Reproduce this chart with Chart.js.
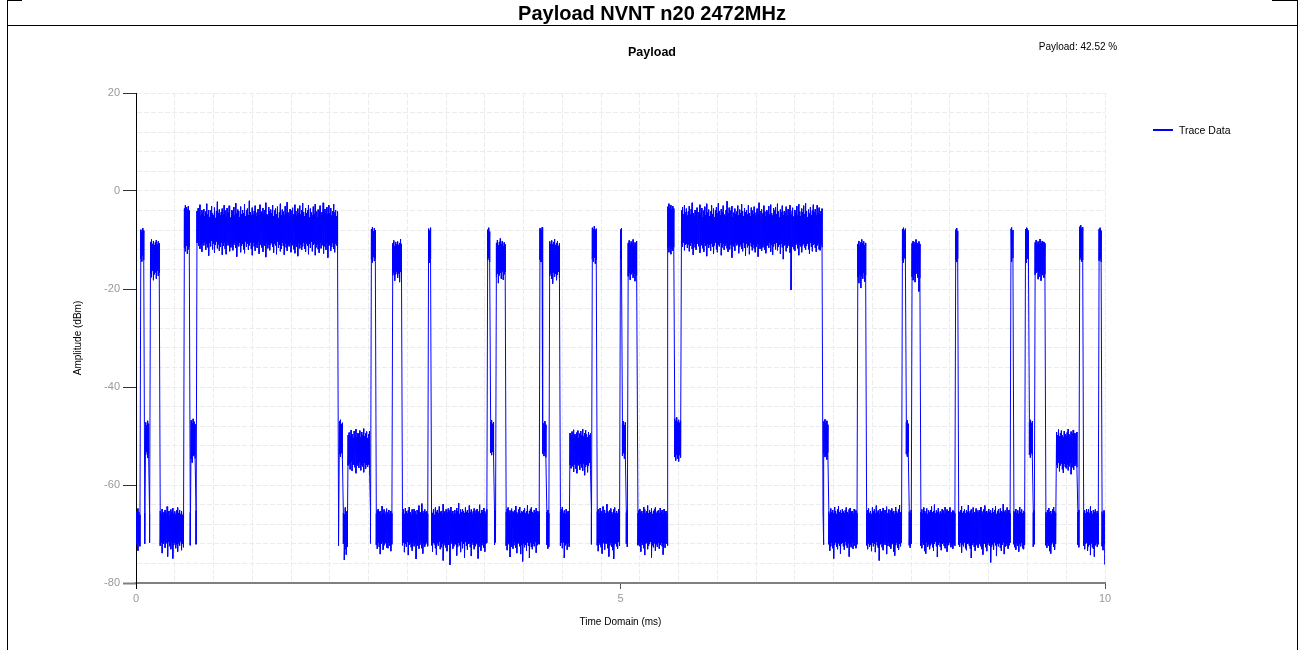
<!DOCTYPE html>
<html>
<head>
<meta charset="utf-8">
<title>Payload NVNT n20 2472MHz</title>
<script src="https://cdn.jsdelivr.net/npm/chart.js@4.4.1/dist/chart.umd.min.js"></script>
<style>
  html, body { margin: 0; padding: 0; background: #fff; }
  body { width: 1298px; height: 650px; position: relative; overflow: hidden;
         font-family: Arial, "Liberation Sans", sans-serif; }
  #chart { position: absolute; left: 0; top: 0; }
  .rule { position: absolute; background: #000; }
  .txt { position: absolute; white-space: nowrap; color: #000; }
</style>
</head>
<body>
<canvas id="chart" width="1298" height="650"></canvas>

<!-- table cell frame -->
<div class="rule" style="left:7px;top:0;width:1px;height:650px"></div>
<div class="rule" style="left:1297px;top:0;width:1px;height:650px"></div>
<div class="rule" style="left:7px;top:25px;width:1291px;height:1px"></div>
<div class="rule" style="left:7px;top:0;width:15px;height:1px"></div>
<div class="rule" style="left:1272px;top:0;width:26px;height:1px"></div>

<div class="txt" style="left:7px;width:1290px;top:0;height:25px;line-height:27px;text-align:center;font-weight:bold;font-size:20px">Payload NVNT n20 2472MHz</div>
<div class="txt" style="left:552px;width:200px;top:44px;line-height:16px;text-align:center;font-weight:bold;font-size:12.5px">Payload</div>
<div class="txt" style="left:1018px;width:120px;top:40px;line-height:14px;text-align:center;font-size:10px">Payload: 42.52 %</div>
<div class="rule" style="left:1153px;top:129px;width:20px;height:2px;background:#0000ff"></div>
<div class="txt" style="left:1179px;top:123px;line-height:14px;font-size:10.5px">Trace Data</div>

<script>
// peak envelope of the trace, one bin every 0.01 ms from 0 to 10 ms (dBm)
var startMs = 0;
var stepMs = 0.01;
var ampMax = [
  -65.4, -65.9, -64.8, -65.6, -66.1, -7.9, -8.3, -7.6, -8.1, -65.7,
  -47.2, -47.8, -46.9, -47.5, -65.9, -10.4, -9.9, -10.8, -10.2, -11.1,
  -10.5, -10.0, -10.9, -10.3, -10.7, -65.3, -65.8, -64.9, -66.0, -65.5,
  -65.1, -65.7, -64.4, -65.9, -65.3, -66.2, -65.0, -65.6, -64.7, -65.8,
  -65.4, -66.0, -65.2, -64.6, -65.7, -65.1, -65.9, -65.3, -66.1, -65.5,
  -3.6, -2.9, -3.3, -3.8, -3.1, -4.0, -65.6, -46.8, -47.4, -46.5,
  -47.1, -47.6, -65.2, -4.1, -3.5, -4.6, -2.8, -5.0, -3.9, -4.4,
  -3.7, -5.1, -4.2, -2.6, -4.8, -3.9, -5.3, -4.0, -3.1, -4.6,
  -4.9, -3.4, -5.5, -4.1, -2.2, -4.5, -3.8, -5.0, -4.3, -3.6,
  -4.7, -2.9, -4.0, -5.2, -3.5, -4.4, -3.0, -4.8, -5.4, -3.9,
  // 1.0 ms
  -4.2, -3.3, -5.0, -2.5, -4.6, -3.8, -4.1, -5.3, -3.2, -4.7,
  -3.9, -4.5, -2.7, -5.1, -4.0, -3.6, -4.9, -2.0, -4.3, -5.0,
  -3.4, -4.8, -4.1, -3.0, -5.2, -4.4, -3.7, -4.9, -2.8, -4.2,
  -5.4, -3.5, -4.6, -3.9, -2.4, -4.7, -5.0, -3.3, -4.1, -3.8,
  -4.5, -2.9, -5.1, -4.0, -3.6, -4.8, -3.2, -5.5, -4.3, -2.6,
  -4.9, -3.8, -4.2, -5.0, -3.1, -4.6, -2.3, -4.4, -5.2, -3.7,
  -4.0, -5.3, -3.4, -4.7, -2.8, -4.1, -5.0, -3.6, -4.5, -3.0,
  -4.8, -3.9, -2.5, -4.3, -5.1, -3.5, -4.6, -4.0, -2.9, -5.4,
  -3.6, -4.4, -5.0, -3.2, -4.7, -2.7, -4.2, -5.3, -3.8, -4.1,
  -3.0, -4.9, -4.3, -2.4, -5.2, -3.7, -4.5, -3.3, -4.8, -2.9,
  // 2.0 ms
  -4.6, -3.5, -5.0, -4.1, -2.7, -4.4, -3.9, -5.1, -4.2, -65.8,
  -47.0, -46.7, -47.6, -47.3, -65.7, -66.0, -64.6, -65.4, -65.9, -49.8,
  -49.3, -50.1, -48.8, -49.6, -50.4, -49.0, -49.9, -48.6, -50.2, -49.4,
  -49.7, -48.9, -50.3, -49.2, -49.8, -48.5, -50.0, -49.5, -49.1, -50.4,
  -49.6, -49.0, -65.5, -7.8, -7.4, -8.2, -7.6, -8.0, -65.8, -65.2,
  -64.9, -65.6, -65.3, -66.1, -64.3, -65.7, -65.0, -65.9, -65.4, -64.8,
  -65.6, -65.1, -66.0, -65.3, -65.8, -10.7, -10.1, -11.2, -10.4, -10.9,
  -10.3, -11.0, -10.6, -9.8, -10.8, -65.5, -65.0, -65.9, -64.7, -65.4,
  -65.8, -65.2, -64.5, -65.6, -66.1, -65.0, -65.7, -64.9, -65.3, -66.0,
  -65.1, -65.9, -64.2, -65.5, -65.8, -63.8, -65.3, -65.7, -65.0, -65.6,
  // 3.0 ms
  -65.4, -65.9, -7.7, -8.1, -7.5, -65.2, -65.7, -65.0, -66.1, -64.6,
  -65.5, -65.1, -65.8, -64.4, -65.6, -65.3, -66.0, -63.9, -65.4, -65.7,
  -65.0, -65.6, -64.8, -65.9, -65.2, -64.5, -65.7, -65.3, -66.0, -65.1,
  -65.8, -64.7, -65.4, -63.7, -65.9, -65.0, -65.6, -64.9, -65.3, -65.7,
  -64.6, -65.5, -65.1, -65.8, -64.2, -65.6, -65.0, -65.9, -65.4, -64.8,
  -65.7, -65.2, -64.9, -65.6, -65.3, -64.0, -65.8, -65.1, -65.5, -64.7,
  -65.4, -65.9, -65.0, -7.9, -7.5, -8.3, -47.1, -46.8, -47.5, -47.2,
  -65.6, -65.3, -10.6, -10.0, -11.1, -10.4, -9.7, -10.8, -10.2, -11.3,
  -10.5, -10.9, -65.5, -65.0, -64.6, -65.8, -65.2, -65.9, -64.8, -65.4,
  -65.7, -65.1, -64.3, -65.6, -65.9, -65.0, -64.5, -65.8, -65.3, -65.6,
  // 4.0 ms
  -65.2, -64.8, -65.7, -65.4, -64.1, -65.9, -65.3, -65.0, -64.6, -65.5,
  -65.8, -65.1, -65.6, -64.7, -65.3, -65.9, -65.4, -7.6, -7.9, -7.4,
  -46.9, -47.4, -47.0, -47.7, -65.5, -65.1, -65.8, -10.3, -10.8, -10.1,
  -10.9, -10.4, -9.8, -11.0, -10.6, -10.2, -11.2, -10.7, -65.4, -65.0,
  -64.5, -65.7, -65.2, -65.9, -64.9, -65.6, -65.3, -65.8, -49.4, -49.9,
  -49.1, -50.2, -48.7, -49.6, -50.0, -49.3, -48.9, -50.4, -49.5, -49.0,
  -49.8, -48.6, -50.1, -49.4, -48.8, -49.7, -50.3, -49.2, -49.9, -49.5,
  -65.6, -7.5, -7.8, -7.2, -8.0, -7.7, -65.4, -65.0, -65.8, -64.7,
  -65.3, -65.9, -64.4, -65.6, -65.1, -65.7, -63.9, -65.4, -65.8, -65.2,
  -64.8, -65.5, -65.9, -65.0, -64.6, -65.7, -65.3, -65.8, -64.9, -65.4,
  // 5.0 ms
  -7.9, -7.6, -47.4, -47.0, -47.8, -47.2, -65.6, -65.1, -10.6, -10.1,
  -10.9, -10.3, -10.7, -9.9, -11.2, -10.5, -10.8, -10.2, -65.7, -65.2,
  -64.9, -65.6, -65.3, -65.9, -64.5, -65.0, -65.7, -65.4, -64.2, -65.8,
  -65.1, -65.6, -64.8, -65.9, -65.3, -65.0, -64.6, -65.7, -65.4, -65.2,
  -65.8, -64.7, -65.5, -65.1, -65.9, -64.9, -65.6, -65.3, -65.7, -3.2,
  -2.6, -3.5, -2.9, -3.8, -3.1, -3.6, -46.4, -46.9, -46.2, -47.1,
  -46.7, -47.3, -46.9, -4.0, -3.3, -4.7, -2.9, -4.4, -3.6, -5.0,
  -4.2, -3.1, -4.8, -3.7, -2.4, -4.5, -5.2, -3.9, -4.1, -3.4,
  -5.0, -4.3, -2.8, -4.6, -3.5, -5.3, -4.0, -3.2, -4.9, -2.6,
  -4.4, -3.8, -5.1, -4.2, -2.9, -4.7, -3.6, -5.4, -4.0, -3.3,
  // 6.0 ms
  -4.6, -2.5, -4.1, -5.0, -3.7, -4.3, -3.0, -4.8, -5.2, -3.9,
  -2.1, -4.5, -3.4, -4.9, -4.0, -3.1, -5.3, -4.4, -3.6, -4.7,
  -4.2, -3.0, -5.0, -3.8, -4.6, -2.7, -4.1, -5.1, -3.5, -4.3,
  -3.9, -4.8, -2.9, -4.5, -5.2, -3.4, -4.0, -4.7, -3.2, -5.0,
  -4.4, -3.6, -4.9, -2.4, -4.1, -5.3, -3.7, -4.6, -3.0, -4.2,
  -5.1, -3.9, -4.3, -3.1, -4.8, -2.8, -4.5, -5.0, -3.5, -4.0,
  -3.3, -4.7, -2.6, -4.2, -5.4, -3.8, -4.4, -3.0, -4.9, -4.1,
  -4.6, -3.2, -5.0, -3.7, -4.3, -2.9, -4.8, -4.0, -3.4, -5.2,
  -3.9, -4.5, -3.1, -4.9, -2.7, -4.2, -5.1, -3.6, -4.4, -3.0,
  -4.7, -2.5, -4.1, -5.3, -3.8, -4.6, -3.3, -4.9, -4.0, -2.8,
  // 7.0 ms
  -4.3, -3.7, -5.0, -2.9, -4.5, -3.4, -4.8, -4.1, -3.6, -65.5,
  -47.0, -46.6, -47.4, -46.9, -47.7, -65.4, -65.9, -64.8, -65.6, -65.1,
  -65.7, -64.5, -65.3, -65.9, -65.0, -64.3, -65.6, -65.2, -65.8, -64.9,
  -65.4, -65.8, -65.1, -64.6, -65.5, -65.9, -65.0, -64.7, -65.6, -65.3,
  -65.8, -64.9, -65.5, -65.2, -65.7, -10.8, -10.2, -11.0, -10.5, -9.9,
  -10.7, -10.3, -11.1, -10.6, -65.6, -65.1, -64.8, -65.7, -65.3, -65.9,
  -64.6, -65.4, -65.0, -65.8, -64.2, -65.5, -65.2, -65.9, -64.9, -65.6,
  -65.3, -64.7, -65.8, -65.1, -65.5, -64.4, -65.7, -65.0, -65.9, -65.2,
  -64.8, -65.6, -65.3, -65.9, -64.5, -65.4, -65.7, -65.0, -64.1, -65.6,
  -65.3, -7.8, -7.5, -8.1, -7.7, -47.2, -46.8, -47.5, -65.4, -65.8,
  // 8.0 ms
  -65.1, -10.7, -10.2, -10.9, -10.4, -9.9, -10.6, -11.1, -10.3, -10.8,
  -65.5, -65.0, -65.8, -64.6, -65.3, -65.7, -64.8, -65.9, -65.2, -65.6,
  -65.1, -64.4, -65.6, -65.3, -64.0, -65.8, -65.2, -65.5, -64.7, -65.9,
  -65.4, -65.7, -64.9, -65.2, -65.8, -64.5, -65.6, -65.0, -65.3, -65.7,
  -64.6, -65.5, -65.9, -65.2, -65.4, -65.8, -7.9, -7.6, -8.2, -65.3,
  -65.6, -65.1, -64.3, -65.7, -65.4, -64.9, -65.8, -65.2, -65.5, -64.1,
  -65.7, -65.3, -65.0, -65.9, -64.6, -65.5, -65.8, -64.8, -65.2, -65.6,
  -65.1, -65.8, -64.5, -65.4, -65.9, -65.0, -64.2, -65.6, -65.3, -65.7,
  -64.9, -65.5, -65.2, -65.8, -64.7, -65.6, -65.1, -64.3, -65.9, -65.4,
  -65.0, -65.7, -64.8, -65.3, -65.6, -63.9, -65.5, -65.2, -65.8, -64.6,
  // 9.0 ms
  -65.4, -65.1, -65.8, -7.7, -7.4, -8.0, -65.3, -65.6, -64.9, -65.7,
  -65.2, -65.9, -64.5, -65.5, -65.0, -65.8, -65.3, -65.6, -7.8, -7.5,
  -7.7, -8.1, -47.1, -46.7, -47.4, -47.0, -65.6, -65.2, -10.5, -10.0,
  -10.8, -10.3, -10.9, -9.8, -10.6, -10.2, -11.0, -10.4, -10.7, -65.5,
  -65.8, -65.1, -64.7, -65.6, -65.3, -65.9, -65.0, -64.5, -65.4, -65.7,
  -49.2, -49.8, -48.7, -50.1, -49.4, -48.9, -49.9, -50.3, -49.0, -49.6,
  -50.0, -49.3, -48.6, -49.7, -50.2, -49.1, -49.5, -48.8, -50.4, -49.4,
  -49.7, -49.2, -65.5, -65.1, -7.3, -7.0, -7.6, -7.4, -65.6, -65.2,
  -65.8, -64.9, -65.5, -65.0, -65.7, -64.4, -65.3, -65.9, -65.1, -65.6,
  -65.0, -65.7, -65.3, -65.8, -7.8, -7.5, -8.1, -65.4, -65.9, -65.2,
  -65.6
];
var ampMin = [
  -72.1, -71.6, -73.4, -71.9, -72.5, -13.8, -14.4, -13.2, -14.1, -72.0,
  -53.8, -53.2, -54.5, -53.6, -71.8, -16.9, -17.6, -16.3, -18.2, -17.0,
  -16.6, -17.9, -16.2, -17.3, -16.8, -72.4, -71.7, -73.9, -72.0, -71.5,
  -72.8, -71.9, -72.3, -74.6, -71.6, -72.5, -73.1, -71.8, -75.0, -72.2,
  -71.7, -72.9, -72.1, -73.6, -71.9, -72.4, -71.5, -73.3, -72.0, -72.7,
  -11.6, -12.3, -11.2, -12.8, -11.9, -11.4, -72.3, -54.7, -55.4, -54.1,
  -53.9, -54.6, -72.1, -10.6, -11.2, -10.3, -11.8, -10.9, -12.4, -10.5,
  -11.1, -10.4, -12.0, -10.8, -11.5, -13.2, -10.6, -11.3, -10.2, -11.9,
  -10.7, -12.6, -11.0, -10.3, -11.7, -10.9, -12.2, -11.4, -10.5, -13.0,
  -11.2, -10.6, -11.8, -12.9, -10.4, -11.1, -10.8, -12.3, -11.5, -10.7,
  // 1.0 ms
  -12.1, -11.0, -10.5, -11.6, -13.4, -10.9, -11.3, -10.6, -12.5, -11.2,
  -10.8, -11.9, -12.7, -10.3, -11.4, -10.7, -12.0, -11.1, -10.5, -11.8,
  -13.1, -10.6, -11.3, -12.2, -10.9, -11.6, -10.4, -12.8, -11.0, -10.7,
  -11.5, -12.4, -10.8, -11.2, -13.5, -10.5, -11.7, -11.0, -12.1, -10.9,
  -10.6, -11.4, -12.6, -10.8, -11.1, -12.9, -10.3, -11.6, -11.0, -12.3,
  -11.8, -10.5, -11.2, -13.0, -10.7, -11.5, -12.2, -10.9, -11.3, -10.6,
  -12.5, -11.1, -10.4, -11.9, -12.7, -10.8, -11.4, -13.3, -10.6, -11.7,
  -10.9, -12.0, -11.3, -10.5, -11.8, -12.4, -10.7, -11.2, -12.9, -10.8,
  -11.6, -10.4, -12.3, -11.0, -10.7, -13.1, -11.5, -10.9, -11.9, -12.6,
  -10.5, -11.7, -11.1, -12.8, -10.8, -11.3, -12.0, -10.6, -13.6, -11.2,
  // 2.0 ms
  -10.9, -12.2, -11.4, -10.6, -11.8, -12.5, -10.7, -11.1, -12.0, -72.4,
  -53.7, -54.2, -53.5, -54.6, -72.0, -75.3, -73.1, -74.2, -72.6, -56.0,
  -55.6, -56.8, -55.2, -57.1, -55.9, -56.4, -55.4, -57.6, -56.1, -55.7,
  -56.5, -55.3, -57.0, -55.8, -56.2, -57.4, -55.5, -56.7, -55.9, -56.3,
  -55.8, -56.6, -71.9, -14.0, -14.6, -13.5, -14.3, -13.8, -72.2, -73.0,
  -71.8, -72.6, -74.1, -72.0, -71.6, -73.2, -72.3, -71.9, -72.8, -71.5,
  -72.9, -71.7, -72.4, -73.5, -72.1, -17.2, -16.6, -18.3, -17.0, -16.4,
  -17.7, -16.8, -18.6, -16.5, -17.3, -72.3, -71.8, -73.7, -72.0, -72.6,
  -71.6, -74.3, -72.2, -71.9, -72.7, -73.4, -71.7, -72.5, -72.0, -75.1,
  -72.4, -71.8, -73.0, -72.2, -71.5, -72.9, -74.0, -71.9, -72.6, -72.1,
  // 3.0 ms
  -71.7, -72.5, -14.2, -14.7, -13.9, -72.3, -73.6, -71.8, -72.1, -72.9,
  -74.2, -71.9, -72.4, -71.6, -73.1, -72.7, -72.0, -75.4, -71.8, -72.3,
  -72.8, -73.5, -71.7, -72.2, -76.3, -72.0, -71.6, -73.0, -72.5, -71.9,
  -72.1, -74.4, -72.6, -71.8, -72.3, -73.7, -71.5, -72.9, -72.0, -74.8,
  -71.6, -72.4, -73.2, -72.0, -71.9, -72.7, -74.5, -71.7, -72.2, -73.1,
  -72.5, -71.8, -72.1, -75.0, -72.6, -71.9, -73.4, -72.3, -71.7, -72.8,
  -73.6, -72.0, -71.8, -14.1, -13.6, -14.5, -53.4, -53.9, -53.2, -54.0,
  -72.2, -71.7, -17.5, -16.9, -18.8, -17.2, -16.7, -17.9, -16.4, -18.1,
  -17.0, -16.6, -72.4, -73.3, -71.8, -72.1, -74.7, -72.6, -71.9, -73.0,
  -72.3, -71.6, -72.8, -73.9, -72.0, -71.8, -72.5, -74.1, -72.2, -75.6,
  // 4.0 ms
  -71.9, -72.7, -72.2, -73.4, -71.7, -72.4, -74.9, -71.8, -72.6, -73.1,
  -72.0, -72.5, -71.6, -73.8, -72.3, -71.9, -72.1, -14.0, -14.5, -13.7,
  -53.6, -54.1, -53.3, -54.4, -72.2, -73.0, -72.6, -17.3, -16.8, -17.9,
  -18.9, -16.6, -17.5, -16.9, -18.2, -17.1, -16.5, -17.8, -72.4, -71.8,
  -72.9, -71.7, -74.9, -72.3, -72.0, -73.2, -71.9, -72.6, -55.9, -56.6,
  -56.2, -55.5, -57.3, -55.8, -56.7, -57.6, -55.4, -56.0, -56.9, -55.7,
  -56.4, -57.1, -55.6, -58.0, -56.3, -55.9, -57.4, -56.1, -55.5, -56.8,
  -72.1, -13.9, -14.4, -13.6, -14.8, -14.1, -72.3, -73.5, -71.8, -72.2,
  -72.7, -74.0, -71.9, -72.4, -73.2, -72.0, -71.7, -72.9, -74.6, -72.3,
  -71.8, -72.6, -73.3, -75.1, -72.1, -71.9, -72.5, -73.0, -71.6, -72.4,
  // 5.0 ms
  -13.8, -14.3, -54.0, -53.5, -54.6, -53.8, -72.0, -72.6, -17.4, -16.8,
  -18.1, -17.0, -16.6, -17.7, -16.9, -18.4, -17.2, -16.7, -72.3, -71.9,
  -72.5, -73.6, -71.7, -72.2, -72.9, -74.3, -72.0, -71.8, -73.1, -72.4,
  -72.0, -71.6, -74.8, -72.3, -72.7, -71.9, -73.4, -72.1, -72.6, -71.8,
  -73.0, -72.2, -71.7, -72.5, -74.2, -71.9, -72.8, -72.0, -72.4, -11.7,
  -12.5, -11.4, -12.9, -11.8, -12.2, -11.5, -54.3, -55.0, -53.8, -54.6,
  -55.2, -53.9, -54.4, -10.7, -11.4, -10.5, -12.1, -11.0, -10.8, -11.6,
  -10.9, -12.3, -11.2, -10.6, -11.8, -13.0, -10.7, -11.5, -12.0, -10.8,
  -11.3, -10.5, -12.6, -11.1, -10.9, -11.7, -12.4, -10.6, -11.2, -13.3,
  -10.8, -11.6, -11.0, -12.2, -10.7, -11.4, -12.8, -11.1, -10.5, -11.9,
  // 6.0 ms
  -12.5, -10.9, -11.3, -10.6, -13.1, -11.5, -10.8, -12.0, -11.2, -10.7,
  -11.7, -12.4, -10.5, -11.9, -11.0, -13.6, -10.8, -11.3, -12.2, -10.6,
  -11.1, -10.7, -12.7, -11.4, -10.9, -11.8, -12.3, -10.5, -11.6, -13.2,
  -10.8, -11.5, -11.1, -12.9, -10.6, -11.3, -12.1, -10.9, -11.7, -12.5,
  -11.4, -10.7, -13.4, -11.0, -11.8, -10.6, -12.2, -11.5, -10.8, -12.0,
  -12.7, -11.2, -10.9, -11.6, -10.5, -12.4, -11.0, -13.0, -11.3, -10.8,
  -11.9, -10.6, -12.1, -11.4, -11.0, -12.8, -10.7, -11.5, -13.9, -11.1,
  -10.9, -12.3, -11.6, -10.8, -11.2, -12.6, -20.2, -11.4, -10.7, -11.9,
  -12.2, -11.0, -10.6, -11.7, -13.1, -10.9, -11.3, -12.5, -11.1, -10.8,
  -11.5, -12.0, -11.2, -10.7, -11.9, -12.8, -10.6, -11.4, -12.3, -11.0,
  // 7.0 ms
  -10.8, -11.6, -12.4, -11.1, -10.7, -11.9, -12.1, -10.9, -11.5, -72.2,
  -53.6, -54.3, -53.9, -54.8, -53.4, -72.1, -73.4, -72.5, -71.8, -72.9,
  -75.0, -72.2, -71.7, -72.6, -73.1, -71.9, -72.4, -74.0, -72.0, -71.8,
  -72.5, -73.2, -71.6, -72.3, -72.8, -71.9, -74.6, -72.1, -72.7, -71.7,
  -73.0, -72.4, -71.8, -72.9, -72.1, -17.6, -18.8, -17.0, -19.8, -17.4,
  -17.9, -16.7, -18.5, -17.2, -72.3, -73.1, -71.9, -72.6, -72.2, -73.5,
  -71.8, -72.5, -72.0, -73.7, -71.6, -72.3, -72.8, -75.4, -72.1, -71.9,
  -72.7, -73.3, -71.7, -72.2, -72.9, -74.1, -72.4, -71.8, -72.6, -73.0,
  -72.1, -71.9, -73.6, -74.4, -72.3, -71.7, -72.8, -73.2, -72.0, -72.5,
  -71.8, -14.2, -14.6, -13.7, -14.0, -53.7, -54.2, -53.4, -72.3, -72.8,
  // 8.0 ms
  -72.0, -17.5, -18.2, -17.1, -18.6, -16.9, -17.7, -17.3, -20.5, -17.8,
  -72.4, -72.9, -71.8, -72.2, -73.5, -74.0, -71.7, -72.6, -72.1, -73.1,
  -72.3, -71.9, -72.7, -73.4, -72.0, -71.6, -72.5, -74.7, -72.2, -71.8,
  -72.6, -73.3, -72.0, -71.7, -72.4, -72.9, -71.9, -73.6, -72.3, -72.1,
  -71.8, -72.7, -72.2, -73.0, -71.9, -72.4, -14.1, -14.5, -13.8, -72.2,
  -72.6, -71.8, -73.8, -72.1, -72.5, -71.7, -72.9, -73.3, -72.0, -71.9,
  -72.4, -73.0, -74.9, -72.2, -71.8, -72.6, -73.4, -71.9, -72.3, -72.8,
  -72.1, -71.7, -72.5, -73.1, -74.2, -72.0, -71.9, -72.7, -73.5, -72.2,
  -71.8, -72.4, -75.8, -72.6, -72.1, -73.2, -71.7, -72.3, -74.5, -72.0,
  -72.5, -71.9, -72.8, -73.4, -72.2, -71.7, -74.1, -72.6, -72.0, -72.4,
  // 9.0 ms
  -73.0, -72.3, -71.8, -14.0, -14.4, -13.7, -72.1, -72.7, -73.2, -71.9,
  -72.4, -73.6, -72.0, -72.5, -71.8, -72.9, -73.1, -72.2, -14.2, -14.6,
  -13.8, -14.1, -53.8, -54.4, -53.5, -54.0, -72.6, -72.1, -17.1, -16.7,
  -16.4, -18.0, -17.5, -16.8, -18.3, -17.2, -16.6, -17.7, -17.0, -72.3,
  -72.8, -71.9, -72.4, -73.5, -74.0, -72.1, -71.7, -72.6, -73.2, -72.0,
  -55.9, -56.5, -55.4, -57.2, -56.0, -55.6, -56.8, -57.5, -55.7, -56.3,
  -56.6, -55.8, -57.0, -56.2, -55.5, -57.8, -56.4, -55.9, -56.9, -56.1,
  -55.6, -56.4, -72.2, -72.7, -14.0, -13.6, -14.4, -14.1, -72.4, -73.1,
  -72.0, -71.8, -73.4, -72.5, -72.2, -74.3, -71.9, -72.7, -73.0, -74.6,
  -72.3, -71.9, -72.6, -72.1, -14.2, -13.9, -14.5, -72.5, -73.3, -72.0,
  -76.2
];

var xTicks = [0, 5, 10];
var yMin = -80, yMax = 20;
var seriesName = "Trace Data";

// each bin becomes a vertical stroke from its max to its min
var points = [];
ampMax.forEach(function (v, i) {
    var t = +(startMs + i * stepMs).toFixed(2);
    points.push({ x: t, y: v });
    points.push({ x: t, y: ampMin[i] });
});

Chart.defaults.font.family = 'Arial, "Liberation Sans", sans-serif';

var ctx = document.getElementById("chart").getContext("2d");
var myChart = new Chart(ctx, {
    type: "line",
    data: {
        datasets: [
            {
                label: seriesName,
                data: points,
                borderColor: "#0000ff",
                borderWidth: 1,
                pointRadius: 0,
                tension: 0,
                fill: false,
            },
        ],
    },
    options: {
        responsive: false,
        animation: false,
        devicePixelRatio: 1,
        layout: { padding: { left: 0, top: 93, right: 193, bottom: 0 } },
        plugins: {
            legend: { display: false },
            tooltip: { enabled: false },
        },
        scales: {
            x: {
                type: "linear",
                position: "bottom",
                min: xTicks[0],
                max: xTicks[xTicks.length - 1],
                afterBuildTicks: function (scale) {
                    scale.ticks = xTicks.map(function (v) { return { value: v }; });
                },
                ticks: { color: "#999", font: { size: 11 }, padding: 3, maxRotation: 0 },
                grid: {
                    drawOnChartArea: false,
                    tickLength: 6,
                    tickColor: function (c) { return c.tick && c.tick.value === 0 ? "#000" : "#555"; },
                },
                border: { color: "#808080", width: 2 },
                title: {
                    display: true,
                    text: "Time Domain (ms)",
                    color: "#000",
                    font: { size: 10 },
                    padding: { top: 0, bottom: 22 },
                },
                afterFit: function (scale) { scale.height = 67; },
            },
            xg: {
                type: "linear",
                position: "top",
                min: 0,
                max: 10,
                ticks: { display: false, stepSize: 0.4 },
                grid: { color: "#ececec", drawTicks: false },
                border: { display: false, dash: [5, 2] },
                afterFit: function (scale) { scale.height = 0; },
            },
            y: {
                type: "linear",
                min: yMin,
                max: yMax,
                ticks: {
                    stepSize: 4,
                    autoSkip: false,
                    color: "#999",
                    font: { size: 11 },
                    padding: 3,
                    callback: function (v) { return v % 20 === 0 ? v : ""; },
                },
                grid: {
                    color: "#ececec",
                    tickLength: 13,
                    tickColor: function (c) {
                        if (!c.tick || c.tick.value % 20 !== 0) return "rgba(0,0,0,0)";
                        return c.tick.value === yMin ? "#808080" : "#333";
                    },
                    tickWidth: function (c) { return c.tick && c.tick.value === yMin ? 2 : 1; },
                },
                border: { color: "#000", width: 1, dash: [5, 2] },
                title: {
                    display: true,
                    text: "Amplitude (dBm)",
                    color: "#000",
                    font: { size: 10 },
                    padding: { top: 72, bottom: 0 },
                },
                afterFit: function (scale) { scale.width = 136; },
            },
        },
    },
});
</script>
</body>
</html>
